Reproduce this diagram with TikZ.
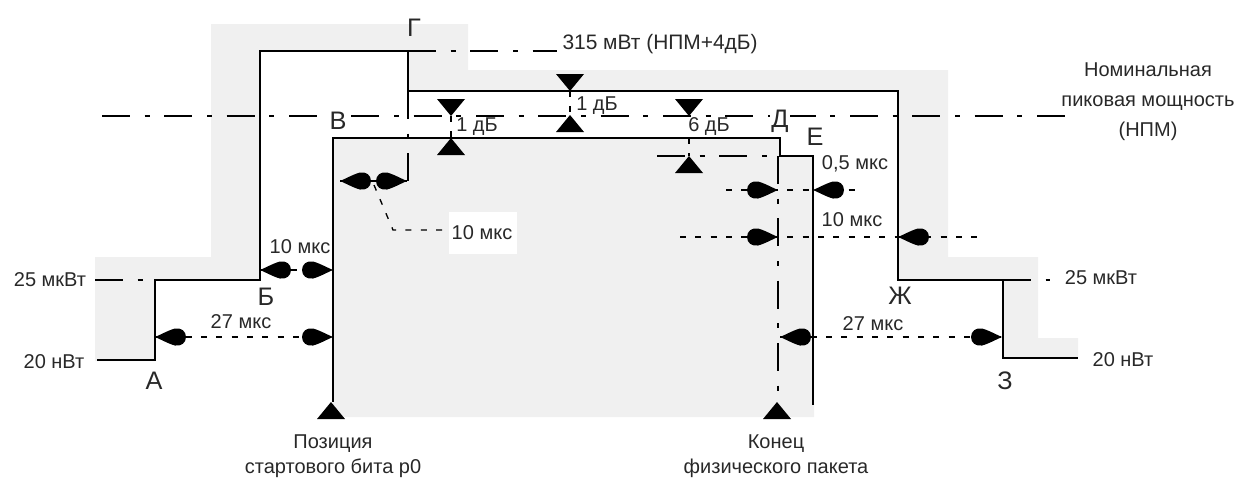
\documentclass[tikz,border=0pt]{standalone}
\usepackage{fontspec}
\setmainfont{Liberation Sans}
\definecolor{maskgrey}{RGB}{240,240,240}
\definecolor{txtgrey}{RGB}{40,40,40}

\tikzset{every picture/.style={line width=0.75pt}}
\tikzset{
  spear/.style={insert path={(0,0) .. controls (-6,-2.5) and (-14,-7) .. (-20,-8.5) .. controls (-26,-9.5) and (-31,-6) .. (-31,0) .. controls (-31,6) and (-26,9.5) .. (-20,8.5) .. controls (-14,7) and (-6,2.5) .. (0,0) -- cycle}},
  marktri/.style={insert path={(0,0) -- (14,17) -- (-14,17) -- cycle}},
  maskline/.style={line width=1.7pt, line join=miter},
  dashdot/.style={line width=1.5pt, dash pattern={on 21pt off 11pt on 3.75pt off 11pt}},
  dimline/.style={line width=1pt, dash pattern={on 4.5pt off 7pt}},
  small/.style={inner sep=0.75pt, text=txtgrey, font=\fontsize{15}{18}\selectfont},
  letter/.style={inner sep=0.75pt, text=txtgrey, font=\fontsize{19}{22}\selectfont},
}

\begin{document}
\begin{tikzpicture}[x=0.75pt,y=0.75pt,yscale=-1,xscale=1]
\useasboundingbox (0,0) rectangle (1245,480);

%Shape: Polygon [upper band]
\fill [maskgrey] (95,361) -- (95,257) -- (211,257) -- (211,24) -- (468,24) -- (468,70) -- (948,70) -- (948,257) -- (1038,257) -- (1038,338) -- (1078,338) -- (1078,358) -- (1003,358) -- (1003,280) -- (898,280) -- (898,91) -- (408,91) -- (408,51) -- (260,51) -- (260,280) -- (155,280) -- (155,361) -- cycle;
%Shape: Polygon [lower region]
\fill [maskgrey] (333,138) -- (780,138) -- (780,156) -- (814,156) -- (814,417) -- (333,417) -- cycle;
%Shape: Rectangle
\fill [white] (449,212) rectangle (517,254);

%Straight Lines [levels]
\draw [dashdot] (102,116) -- (1078,116);
\draw [dashdot] (408,51) -- (557,51);
\draw [dashdot] (408,91) -- (408,181);
\draw [dashdot] (657,156) -- (780,156);
\draw [dashdot] (778,156) -- (778,402);
\draw [dashdot] (95,280) -- (155,280);
\draw [dashdot] (1003,280) -- (1050,280);

%Straight Lines [upper mask]
\draw [maskline] (97,360) -- (155,360) -- (155,280) -- (260,280) -- (260,51) -- (408,51) -- (408,91) -- (898,91) -- (898,280) -- (1003,280) -- (1003,358) -- (1078,358);
%Straight Lines [lower mask]
\draw [maskline] (333,402) -- (333,138) -- (780,138) -- (780,156) -- (813,156) -- (813,405);

%Straight Lines [time spans]
\draw [dimline] (260,270) -- (333,270);
\draw [dimline] (155,337) -- (333,337);
\draw [dimline] (340,181) -- (407,181);
\draw [dimline] (374,185) -- (393,230) -- (445,230);
\draw [dimline] (726,190) -- (857,190);
\draw [dimline] (680,237) -- (978,237);
\draw [dimline] (780,337) -- (1003,337);
%Straight Lines [level spans]
\draw [dimline] (451,116) -- (451,138);
\draw [dimline] (570,91) -- (570,116);
\draw [dimline] (689,138) -- (689,156);

%Arrow heads
\fill [shift={(260,270)}, rotate=180, spear];
\fill [shift={(333,270)}, spear];
\fill [shift={(155,337)}, rotate=180, spear];
\fill [shift={(333,337)}, spear];
\fill [shift={(340,181)}, rotate=180, spear];
\fill [shift={(407,181)}, spear];
\fill [shift={(778,190)}, spear];
\fill [shift={(813,190)}, rotate=180, spear];
\fill [shift={(778,237)}, spear];
\fill [shift={(898,237)}, rotate=180, spear];
\fill [shift={(780,337)}, rotate=180, spear];
\fill [shift={(1002,337)}, spear];

%Triangles
\fill [shift={(451,116)}, rotate=180, marktri];
\fill [shift={(451,138)}, marktri];
\fill [shift={(570,91)}, rotate=180, marktri];
\fill [shift={(570,115)}, marktri];
\fill [shift={(689,116)}, rotate=180, marktri];
\fill [shift={(689,156)}, marktri];
\fill [shift={(331,402)}, marktri];
\fill [shift={(777,402)}, marktri];

% Text Node
\draw (50,280) node [small] (lvlUpL) {25 мкВт};
% Text Node
\draw (54,362) node [small] (lvlLowL) {20 нВт};
% Text Node
\draw (1101,278) node [small] (lvlUpR) {25 мкВт};
% Text Node
\draw (1123,360) node [small] (lvlLowR) {20 нВт};
% Text Node
\draw (561,44) node [small, anchor=west, font=\fontsize{15.7}{18}\selectfont] (peakMax) {315 мВт (НПМ+4дБ)};
% Text Node
\draw (1148,102) node [small, align=center, font=\fontsize{15}{22.5}\selectfont] (nomPeak) {Номинальная\\пиковая мощность\\(НПМ)};
% Text Node
\draw (477,127) node [small] (dbA) {1 дБ};
% Text Node
\draw (597,106) node [small] (dbB) {1 дБ};
% Text Node
\draw (709,127) node [small] (dbC) {6 дБ};
% Text Node
\draw (855,164) node [small] (tHalf) {0,5 мкс};
% Text Node
\draw (852,220) node [small] (tTenR) {10 мкс};
% Text Node
\draw (482,233) node [small] (tTenM) {10 мкс};
% Text Node
\draw (300,247) node [small] (tTenL) {10 мкс};
% Text Node
\draw (241,322) node [small] (tSevL) {27 мкс};
% Text Node
\draw (873,324) node [small] (tSevR) {27 мкс};
% Text Node
\draw (333,456) node [small, align=center, font=\fontsize{15}{19}\selectfont] (startBit) {Позиция\\стартового бита р0};
% Text Node
\draw (776,456) node [small, align=center, font=\fontsize{15}{19}\selectfont] (endPkt) {Конец\\физического пакета};

% Text Node
\draw (154,381) node [letter] (ptA) {А};
% Text Node
\draw (266,297) node [letter] (ptB) {Б};
% Text Node
\draw (338,121) node [letter, fill=white] (ptV) {В};
% Text Node
\draw (414,28) node [letter] (ptG) {Г};
% Text Node
\draw (780,121) node [letter, fill=white] (ptD) {Д};
% Text Node
\draw (815,137) node [letter] (ptE) {Е};
% Text Node
\draw (900,296) node [letter] (ptZh) {Ж};
% Text Node
\draw (1005,381) node [letter] (ptZ) {З};

\end{tikzpicture}
\end{document}
